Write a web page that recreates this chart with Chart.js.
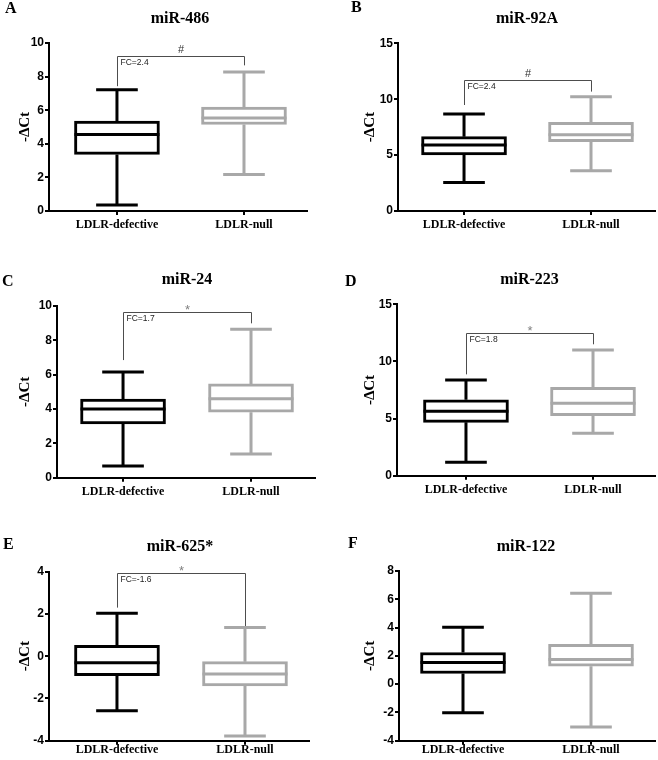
<!DOCTYPE html>
<html><head><meta charset="utf-8">
<script src="https://cdn.jsdelivr.net/npm/chart.js@4.4.1/dist/chart.umd.min.js"></script>
<style>
html,body{margin:0;padding:0;background:#fff;}
body{width:658px;height:760px;position:relative;overflow:hidden;}
canvas{position:absolute;}
.txt{position:absolute;font-family:'Liberation Serif','Times New Roman',serif;font-weight:bold;line-height:1;white-space:nowrap;color:#000;}
</style></head><body>
<script>
// ---------- DATA ----------
const panelLetters = ['A','B','C','D','E','F'];
const titles = ['miR-486','miR-92A','miR-24','miR-223','miR-625*','miR-122'];
const groups = ['LDLR-defective','LDLR-null'];
const yTitle = '-\u0394Ct';
// [min, q1, median, q3, max]
const defectiveStats = [
  [0.35, 3.37, 4.55, 5.35, 7.22],
  [2.56, 5.01, 5.90, 6.65, 8.68],
  [0.68, 3.13, 4.00, 4.58, 6.16],
  [1.17, 4.67, 5.63, 6.65, 8.37],
  [-2.58, -0.92, -0.31, 0.51, 2.03],
  [-2.02, 0.75, 1.53, 2.24, 4.03]
];
const nullStats = [
  [2.18, 5.15, 5.54, 6.18, 8.28],
  [3.61, 6.20, 6.83, 7.93, 10.23],
  [1.38, 3.81, 4.60, 5.46, 8.64],
  [3.71, 5.25, 6.33, 7.73, 11.00],
  [-3.78, -1.41, -0.84, -0.26, 1.36],
  [-3.04, 1.27, 1.75, 2.81, 6.42]
];
const yMin  = [0, 0, 0, 0, -4, -4];
const yMax  = [10, 15, 10, 15, 4, 8];
const yStep = [2, 5, 2, 5, 2, 2];
const sigSymbol = ['#', '#', '*', '*', '*', null];
const fcText = ['FC=2.4', 'FC=2.4', 'FC=1.7', 'FC=1.8', 'FC=-1.6', null];
const bracketY = [9.23, 11.72, 9.65, 12.46, 3.95, null];
const bracketLeftEnd = [7.43, 9.48, 6.85, 8.87, 2.30, null];
const bracketRightEnd = [8.67, 10.68, 8.99, 11.50, 1.43, null];

// ---------- LAYOUT / STYLE ----------
const BLACK = '#000000', GRAY = '#a8a8a8';
const panels = [
  {x:0,   y:0,   w:329, h:250, L:49, T:43,   R:22, B:211,   xmin:-0.535, xmax:1.496, yt:25, xp:3,  lx:5,   lt:-0.4,  tcx:180,   tt:9.5},
  {x:329, y:0,   w:329, h:250, L:69, T:43.3, R:3,  B:211,   xmin:-0.52,  xmax:1.504, yt:41, xp:3,  lx:351, lt:-0.7,  tcx:527,   tt:9.5},
  {x:0,   y:250, w:329, h:250, L:57, T:56,   R:14, B:227.7, xmin:-0.516, xmax:1.5,   yt:25, xp:3,  lx:2,   lt:272.6, tcx:187,   tt:271},
  {x:329, y:250, w:329, h:250, L:68, T:54.3, R:3,  B:225.7, xmin:-0.543, xmax:1.488, yt:41, xp:3,  lx:345, lt:272.6, tcx:529.5, tt:271},
  {x:0,   y:500, w:329, h:260, L:49, T:71.7, R:20, B:240.7, xmin:-0.531, xmax:1.5,   yt:25, xp:-2, lx:3,   lt:535.9, tcx:180,   tt:537.5},
  {x:329, y:500, w:329, h:260, L:70, T:71,   R:3,  B:240.7, xmin:-0.5,   xmax:1.5,   yt:41, xp:-2, lx:348, lt:534.9, tcx:526,   tt:537.5}
];

const boxPlugin = {
  id: 'boxWhisker',
  afterDatasetsDraw(chart, args, o) {
    const ctx = chart.ctx, x = chart.scales.x, y = chart.scales.y;
    const meta = chart.getDatasetMeta(0);
    meta.data.forEach((bar, i) => {
      const s = o.stats[i];
      const cx = bar.x, half = bar.width / 2, cap = bar.width * 0.245;
      const py = v => y.getPixelForValue(v);
      ctx.save();
      ctx.strokeStyle = o.colors[i];
      ctx.lineWidth = 3;
      ctx.lineCap = 'butt';
      ctx.beginPath();
      ctx.moveTo(cx, py(s[3])); ctx.lineTo(cx, py(s[4]));
      ctx.moveTo(cx, py(s[1])); ctx.lineTo(cx, py(s[0]));
      ctx.moveTo(cx - cap, py(s[4])); ctx.lineTo(cx + cap, py(s[4]));
      ctx.moveTo(cx - cap, py(s[0])); ctx.lineTo(cx + cap, py(s[0]));
      ctx.moveTo(cx - half, py(s[2])); ctx.lineTo(cx + half, py(s[2]));
      ctx.stroke();
      ctx.restore();
    });
    if (o.bracket != null) {
      const xl = Math.round(x.getPixelForValue(0)) + 0.5;
      const xr = Math.round(x.getPixelForValue(1)) + 0.5;
      const yb = Math.round(y.getPixelForValue(o.bracket)) + 0.5;
      ctx.save();
      ctx.strokeStyle = '#4d4d4d';
      ctx.lineWidth = 1;
      ctx.beginPath();
      ctx.moveTo(xl, y.getPixelForValue(o.leftEnd));
      ctx.lineTo(xl, yb);
      ctx.lineTo(xr, yb);
      ctx.lineTo(xr, y.getPixelForValue(o.rightEnd));
      ctx.stroke();
      const isHash = o.symbol === '#';
      ctx.font = (isHash ? '11px' : '13px') + " 'Liberation Sans', Arial, sans-serif";
      ctx.fillStyle = isHash ? '#333' : '#808080';
      ctx.textAlign = 'center';
      ctx.textBaseline = 'alphabetic';
      const m = ctx.measureText(o.symbol);
      const gap = isHash ? 4 : 2.5;
      ctx.fillText(o.symbol, (xl + xr) / 2, yb - gap - m.actualBoundingBoxDescent);
      ctx.font = "8.5px 'Liberation Sans', Arial, sans-serif";
      ctx.fillStyle = '#222';
      ctx.textAlign = 'left';
      ctx.textBaseline = 'top';
      ctx.fillText(o.fc, xl + 3, yb + 2);
      ctx.restore();
    }
  }
};

panels.forEach((p, i) => {
  const c = document.createElement('canvas');
  c.width = p.w; c.height = p.h;
  c.style.left = p.x + 'px'; c.style.top = p.y + 'px';
  c.style.width = p.w + 'px'; c.style.height = p.h + 'px';
  document.body.appendChild(c);

  const letter = document.createElement('div');
  letter.className = 'txt';
  letter.style.fontSize = '16px';
  letter.style.left = p.lx + 'px';
  letter.style.top = p.lt + 'px';
  letter.textContent = panelLetters[i];
  document.body.appendChild(letter);

  const t = document.createElement('div');
  t.className = 'txt';
  t.style.fontSize = '16px';
  t.style.left = (p.tcx - 100) + 'px';
  t.style.width = '200px';
  t.style.textAlign = 'center';
  t.style.top = p.tt + 'px';
  t.textContent = titles[i];
  document.body.appendChild(t);

  const d = defectiveStats[i], n = nullStats[i];
  new Chart(c, {
    type: 'bar',
    data: {
      datasets: [{
        data: [{x: 0, y: [d[1], d[3]]}, {x: 1, y: [n[1], n[3]]}],
        backgroundColor: '#ffffff',
        borderColor: [BLACK, GRAY],
        borderWidth: 3,
        borderSkipped: false,
        barThickness: 85
      }]
    },
    options: {
      responsive: false,
      animation: false,
      devicePixelRatio: 1,
      layout: { padding: { top: p.T, right: p.R, left: 0, bottom: 0 } },
      plugins: {
        legend: { display: false },
        tooltip: { enabled: false },
        boxWhisker: {
          stats: [d, n], colors: [BLACK, GRAY],
          bracket: bracketY[i], leftEnd: bracketLeftEnd[i], rightEnd: bracketRightEnd[i],
          symbol: sigSymbol[i], fc: fcText[i]
        }
      },
      scales: {
        x: {
          type: 'linear',
          min: p.xmin, max: p.xmax,
          offset: false,
          grid: { offset: false, drawOnChartArea: false, drawTicks: true, tickLength: 4, color: '#000', lineWidth: 2 },
          border: { display: true, color: '#000', width: 2 },
          afterBuildTicks: s => { s.ticks = groups.map((g, k) => ({ value: k })); },
          ticks: { color: '#000', padding: p.xp, maxRotation: 0, autoSkip: false,
                   callback: v => groups[v],
                   font: { family: "'Liberation Serif', 'Times New Roman', serif", weight: 'bold', size: 12 } },
          afterFit: s => { s.height = p.h - p.B; }
        },
        y: {
          min: yMin[i], max: yMax[i],
          grid: { drawOnChartArea: false, drawTicks: true, tickLength: 4, color: '#000', lineWidth: 2 },
          border: { display: true, color: '#000', width: 2 },
          ticks: { stepSize: yStep[i], color: '#000', padding: 1,
                   font: { family: "'Liberation Sans', Arial, sans-serif", weight: 'bold', size: 12 } },
          title: { display: true, text: yTitle, color: '#000',
                   font: { family: "'Liberation Serif', 'Times New Roman', serif", weight: 'bold', size: 15 },
                   padding: { top: p.yt - 9, bottom: 0 } },
          afterFit: s => { s.width = p.L; }
        }
      }
    },
    plugins: [boxPlugin]
  });
});
</script>
</body></html>
